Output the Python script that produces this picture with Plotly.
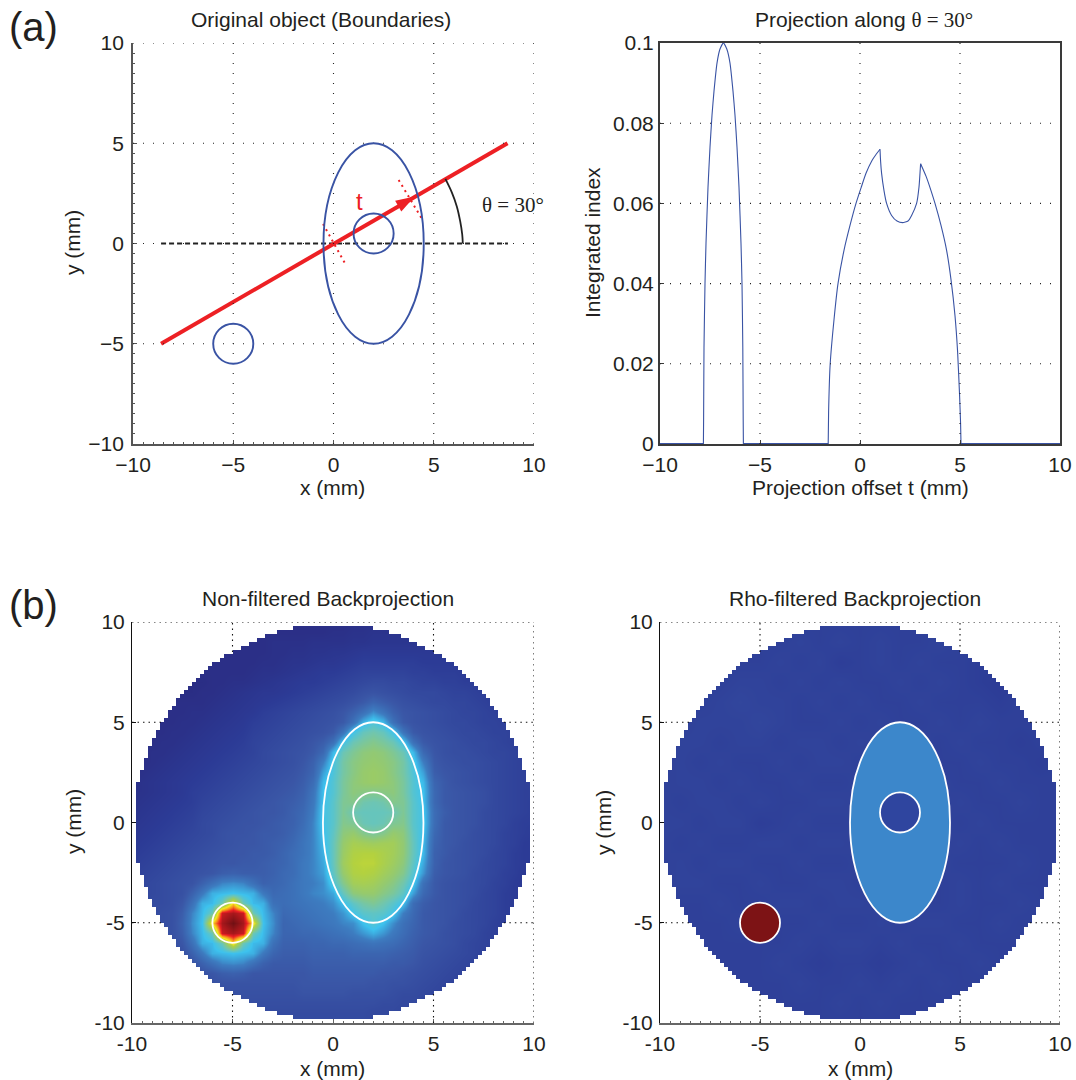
import numpy as np
import plotly.graph_objects as go

W, H = 1076, 1080
INK = "#231f20"
BLUE = "#3953a4"
RED = "#ed2024"

# ---------- data ----------
tick_vals = [-10, -5, 0, 5, 10]
tick_text_minus = ["\u221210", "\u22125", "0", "5", "10"]
tick_text_hyphen = ["-10", "-5", "0", "5", "10"]
proj_ticks = [0, 0.02, 0.04, 0.06, 0.08, 0.1]
proj_tick_text = ["0", "0.02", "0.04", "0.06", "0.08", "0.1"]

ray_x = [-8.6, 8.68]
ray_y = [-5.0, 5.0]
baseline_x = [-8.6, 8.7]
baseline_y = [0, 0]
perp1_x = [-0.52, 0.58]
perp1_y = [0.97, -1.0]
perp2_x = [3.25, 4.4]
perp2_y = [3.17, 1.25]
arc_x = [5.58, 5.9, 6.15, 6.32, 6.42, 6.45]
arc_y = [3.22, 2.55, 1.85, 1.1, 0.45, 0.0]
arrow_x = [4.05]
arrow_y = [2.34]

zero_t = [-10, -7.83, None, -5.83, -1.59, None, 5.05, 10]
zero_v = [0, 0, None, 0, 0, None, 0, 0]
bump_t = [-7.83, -7.82, -7.8, -7.75, -7.7, -7.6, -7.5, -7.4, -7.3, -7.15, -7.0, -6.83,
          -6.66, -6.5, -6.35, -6.25, -6.15, -6.05, -5.95, -5.9, -5.86, -5.84, -5.83]
bump_v = [0, 0.006, 0.024, 0.040, 0.050, 0.064, 0.074, 0.082, 0.088, 0.095, 0.0985, 0.1,
          0.0985, 0.095, 0.088, 0.082, 0.074, 0.064, 0.050, 0.040, 0.024, 0.006, 0]
rise_t = [-1.59, -1.57, -1.49, -1.3, -1.1, -0.8, -0.5, -0.2, 0.06, 0.3, 0.6, 0.8, 1.0]
rise_v = [0, 0.008, 0.02, 0.031, 0.04, 0.0483, 0.0545, 0.06, 0.064, 0.0675, 0.0707, 0.0722, 0.0735]
dip_t = [1.0, 1.03, 1.08, 1.2, 1.33, 1.58, 1.85, 2.13, 2.4, 2.58, 2.83, 2.95, 3.03]
dip_v = [0.0735, 0.0705, 0.0675, 0.0632, 0.06, 0.057, 0.0556, 0.0552, 0.0556, 0.057, 0.06, 0.0641, 0.0699]
fall_t = [3.03, 3.3, 3.55, 3.75, 4.05, 4.33, 4.55, 4.75, 4.88, 4.98, 5.03, 5.05]
fall_v = [0.0699, 0.0668, 0.0632, 0.06, 0.0545, 0.0483, 0.041, 0.032, 0.023, 0.012, 0.005, 0]

# half width of the disc image (mm) per 0.2 mm row, from the centre row outwards
disc_half = [9.8, 9.8, 9.8, 9.8, 9.8, 9.8, 9.8, 9.8, 9.8, 9.8,
             9.6, 9.6, 9.6, 9.4, 9.4, 9.4, 9.2, 9.2, 9.2, 9.0,
             9.0, 8.8, 8.8, 8.6, 8.6, 8.4, 8.2, 8.2, 8.0, 7.8,
             7.8, 7.6, 7.4, 7.2, 7.0, 6.8, 6.6, 6.4, 6.2, 6.0,
             5.6, 5.4, 5.0, 4.6, 4.2, 3.8, 3.4, 2.8, 2.0, 0.0]

big_ellipse = (-0.5, -5.0, 4.5, 5.0)
inner_circle = (1.0, -0.5, 3.0, 1.5)
hot_circle = (-6.0, -6.0, -4.0, -4.0)

grid_axis_05 = [-10 + 0.5 * i for i in range(41)]
grid_desc_05 = [10 - 0.5 * i for i in range(41)]
grid_axis_10 = [-10 + i for i in range(21)]
grid_desc_10 = [10 - i for i in range(21)]

# colour level x100, rows from y=10 to y=-10, columns from x=-10 to x=10, 0.5 mm apart
nonfiltered = [
 [3,3,3,3,3,3,3,3,3,3, 3,3,3,3,3,3,3,3,3,3, 3,3,4,4,5,5,5,6,6,6, 6,7,7,7,8,8,8,8,8,8, 8],
 [3,3,3,3,3,3,3,3,3,3, 3,3,3,3,3,3,3,3,3,3, 4,4,5,5,6,6,6,6,6,7, 7,7,7,8,8,8,8,8,8,8, 8],
 [3,3,3,3,3,3,3,3,3,3, 3,3,3,3,4,4,4,4,5,5, 5,5,6,6,7,7,7,7,7,8, 8,8,8,8,8,8,8,8,8,8, 8],
 [3,3,3,3,3,3,3,3,3,3, 3,3,3,3,4,4,5,5,6,6, 7,7,8,9,9,9,9,9,9,9, 9,9,9,9,9,8,8,8,8,8, 8],
 [3,3,3,3,3,3,3,3,3,3, 3,3,3,4,4,5,6,6,7,8, 8,9,10,11,11,11,11,11,11,10, 10,10,10,10,9,9,8,8,8,8, 8],
 [3,3,3,3,3,3,3,3,3,3, 3,3,4,5,5,6,7,8,9,10, 10,11,12,13,13,13,13,13,12,12, 11,11,11,10,10,9,9,8,8,8, 8],
 [3,3,3,3,3,2,2,2,3,3, 4,4,5,6,7,8,9,10,10,11, 12,13,14,15,16,16,15,15,14,13, 13,12,12,11,11,10,10,9,9,8, 8],
 [3,3,3,3,3,2,2,3,3,4, 5,6,7,8,8,9,10,11,12,13, 14,15,16,18,19,18,17,16,15,15, 15,14,13,13,12,11,11,10,9,9, 9],
 [3,3,3,3,3,3,3,3,4,5, 6,7,8,9,10,11,12,13,14,15, 16,17,19,21,24,22,20,18,17,16, 15,15,14,14,13,12,11,11,10,10, 9],
 [3,3,3,3,3,3,4,4,5,6, 7,8,9,11,12,13,14,15,16,17, 18,20,23,27,32,28,23,20,19,18, 17,16,15,14,14,13,12,11,11,10, 10],
 [3,3,3,3,3,4,4,5,6,7, 8,9,11,12,13,14,15,16,17,18, 19,21,27,36,41,37,27,21,19,18, 17,16,15,15,14,13,13,12,11,11, 10],
 [3,3,3,3,4,4,5,6,7,8, 9,10,12,13,14,15,16,17,18,19, 21,28,39,45,47,45,39,28,21,19, 18,17,16,15,15,14,13,13,12,11, 10],
 [3,3,3,4,4,5,6,7,8,9, 10,11,13,14,15,16,17,18,20,22, 27,39,46,49,51,49,46,39,27,21, 19,18,17,16,15,15,14,13,12,12, 11],
 [3,3,4,4,5,6,7,8,9,10, 11,12,13,15,16,17,18,19,21,25, 37,46,50,53,54,53,50,46,37,25, 20,18,17,17,16,15,14,14,13,12, 11],
 [3,3,4,5,6,7,8,9,10,11, 12,13,14,15,16,17,18,20,23,30, 40,48,52,54,55,54,52,48,40,30, 21,19,18,17,17,16,15,14,13,12, 12],
 [3,4,5,6,7,8,9,10,11,12, 13,14,15,16,17,18,19,21,24,34, 41,48,52,55,56,55,52,48,41,34, 22,20,19,18,17,16,15,14,13,12, 12],
 [4,5,6,7,8,9,10,11,12,13, 14,15,16,17,18,19,20,22,26,37, 42,49,53,55,56,55,53,49,42,37, 24,21,19,18,17,16,15,14,13,12, 12],
 [5,5,6,7,8,9,11,12,13,14, 15,16,17,18,19,20,21,23,28,38, 42,49,53,52,51,52,53,49,42,38, 25,21,20,19,18,17,15,14,13,12, 12],
 [5,6,7,8,9,10,11,13,14,15, 16,17,18,19,20,21,22,24,29,38, 43,50,51,47,46,47,51,50,43,38, 25,21,20,19,18,17,15,14,13,12, 11],
 [6,7,8,9,10,11,12,14,15,16, 17,18,19,20,20,21,23,25,30,39, 43,50,46,45,45,45,46,50,43,39, 26,22,20,19,18,16,15,14,13,12, 11],
 [7,8,9,10,11,12,13,15,16,17, 18,19,19,20,21,22,23,26,31,39, 43,51,50,46,45,46,50,51,43,39, 26,21,20,19,18,16,15,14,12,11, 11],
 [8,9,10,11,12,13,14,15,16,18, 19,19,20,21,21,22,24,27,31,38, 44,53,55,51,49,51,55,53,44,38, 25,21,20,19,17,16,15,13,12,11, 10],
 [9,10,11,12,13,14,15,16,17,18, 19,20,20,21,22,23,25,28,31,37, 45,55,59,58,57,58,58,54,45,37, 24,21,20,18,17,16,15,13,12,10, 10],
 [10,11,12,13,14,15,16,17,18,19, 20,20,21,21,22,24,26,28,31,36, 45,56,61,62,62,60,58,54,45,37, 23,21,19,18,17,16,14,13,11,10, 10],
 [11,12,13,14,15,16,17,18,19,20, 20,21,21,22,23,24,26,29,31,35, 45,57,62,63,63,60,57,53,44,35, 23,20,19,18,17,15,14,13,11,10, 9],
 [12,13,14,15,16,17,18,19,20,22, 23,22,22,22,23,25,26,29,31,34, 44,55,61,62,61,58,55,51,42,33, 22,20,19,18,16,15,14,12,11,9, 9],
 [13,14,15,16,17,18,19,23,27,31, 32,31,27,23,24,25,27,29,30,32, 41,51,58,59,58,55,52,47,39,27, 21,19,18,17,16,15,13,12,10,9, 8],
 [13,14,15,16,17,18,23,29,36,37, 38,37,36,29,25,26,27,29,31,32, 35,45,53,55,55,52,49,44,34,25, 21,19,18,17,16,14,13,11,10,9, 8],
 [14,15,16,16,17,20,27,36,37,46, 72,46,37,36,27,26,27,28,29,30, 32,38,44,48,50,47,43,38,26,22, 20,19,18,17,15,14,13,11,10,9, 8],
 [14,15,16,17,18,22,31,37,46,90, 94,90,46,37,31,25,26,27,28,29, 30,33,39,43,44,43,39,30,25,21, 20,19,18,16,15,14,13,11,10,8, 8],
 [14,15,16,17,18,23,32,38,72,94, 100,94,72,38,32,24,25,26,27,28, 29,31,32,38,42,38,32,27,24,21, 20,19,17,16,15,14,12,11,9,8, 8],
 [14,15,16,17,18,22,31,37,46,90, 94,90,46,37,31,24,24,25,25,26, 27,28,30,33,36,33,29,26,23,21, 20,18,17,16,15,13,12,11,9,8, 8],
 [14,15,16,16,17,20,27,36,37,46, 72,46,37,36,27,23,23,23,24,24, 25,25,26,27,28,27,26,24,22,20, 19,18,17,15,14,13,12,10,9,8, 8],
 [14,15,15,16,17,18,23,29,36,37, 38,37,36,29,24,22,22,22,23,23, 23,23,24,24,24,24,23,22,21,19, 18,17,16,15,14,12,11,10,9,8, 8],
 [14,14,15,15,16,17,19,23,27,31, 32,31,27,23,21,21,21,21,22,22, 22,22,22,22,22,22,21,21,20,18, 17,16,15,14,13,12,11,9,8,8, 8],
 [13,14,14,15,16,16,17,19,20,22, 23,22,20,20,20,20,20,20,21,21, 21,21,21,21,21,20,20,19,18,17, 16,15,14,13,12,11,10,9,8,8, 8],
 [13,13,14,14,15,15,16,17,18,19, 19,19,19,19,19,19,19,20,20,20, 20,20,20,20,19,19,18,18,17,16, 15,14,13,12,11,10,9,9,8,8, 8],
 [13,13,13,14,14,15,15,16,17,17, 18,18,18,18,18,18,18,19,19,19, 19,19,18,18,18,18,17,16,16,15, 14,13,12,11,10,9,9,8,8,8, 8],
 [13,13,13,13,14,14,15,15,16,16, 17,17,17,17,17,17,17,17,17,17, 17,17,17,17,17,16,16,15,15,14, 13,12,11,10,10,9,8,8,8,8, 8],
 [13,13,13,13,13,14,14,15,15,15, 16,16,16,16,16,16,16,16,16,16, 16,16,16,16,15,15,15,14,14,13, 12,11,11,10,9,9,8,8,8,8, 8],
 [13,13,13,13,13,14,14,15,15,15, 16,16,16,16,16,16,16,16,16,16, 16,16,16,16,15,15,15,14,14,13, 12,11,11,10,9,9,8,8,8,8, 8],
]

# colour level x100, rows from y=10 to y=-10, columns from x=-10 to x=10, 1 mm apart
rho_filtered = [
 [12,12,12,12,12,12,12,12,12,12,12,12,12,12,12,12,12,12,12,12,12],
 [12,12,12,12,12,12,12,13,12,13,12,13,12,12,13,12,12,12,12,12,12],
 [12,12,12,12,12,12,13,12,13,11,12,13,12,13,12,12,11,12,12,12,12],
 [12,12,12,12,13,13,12,13,12,13,12,12,13,12,13,12,11,10,12,12,12],
 [12,12,12,13,14,13,13,12,13,12,13,12,12,13,12,12,12,11,12,12,12],
 [12,12,13,13,13,14,13,12,12,13,12,13,12,12,13,12,13,12,12,12,12],
 [12,13,13,12,13,13,12,13,13,12,13,12,13,13,12,13,12,12,11,12,12],
 [12,13,12,13,12,12,13,12,13,13,12,13,12,13,12,12,13,12,12,11,12],
 [12,13,13,12,13,12,12,13,12,12,13,12,13,12,13,12,12,13,12,12,12],
 [13,12,13,13,12,13,12,12,13,13,12,13,12,13,12,13,12,12,13,12,12],
 [13,13,12,13,13,11,12,13,12,12,13,12,12,12,13,12,13,12,12,12,12],
 [13,12,13,12,12,13,13,12,13,13,12,13,13,13,12,13,12,13,12,12,12],
 [12,13,12,13,13,12,12,13,12,12,13,12,13,12,13,12,12,12,13,12,12],
 [12,13,13,12,12,13,12,12,13,13,12,13,12,13,12,13,12,13,12,12,12],
 [12,12,12,13,12,12,13,13,12,13,13,12,13,12,12,13,12,12,13,12,12],
 [12,12,12,12,13,12,12,12,13,12,12,13,12,13,13,12,12,13,12,12,12],
 [12,12,12,12,12,12,12,13,12,13,13,12,13,12,12,13,12,12,12,12,12],
 [12,12,12,12,12,12,13,12,11,12,12,11,12,13,12,12,13,12,12,12,12],
 [12,12,12,12,12,12,12,13,12,12,13,12,13,12,13,12,12,12,12,12,12],
 [12,12,12,12,12,12,12,12,12,13,12,13,12,12,12,12,12,12,12,12,12],
 [12,12,12,12,12,12,12,12,12,12,12,12,12,12,12,12,12,12,12,12,12],
]

# ---------- layout helpers ----------
def fx(px):
    return px / W

def fy(py):
    return 1 - py / H

panels = {
    "a1": (133, 534, 43, 444),
    "a2": (660, 1060, 43, 444),
    "b1": (132, 534, 622, 1023),
    "b2": (660, 1060, 622, 1023),
}

jet = [
    [0.00, "#2a2a80"], [0.10, "#2c3b96"], [0.20, "#3a56a6"], [0.30, "#3d7cc0"],
    [0.38, "#3dc2ee"], [0.46, "#6cc5b5"], [0.54, "#92c973"], [0.62, "#b3d13f"],
    [0.70, "#f4e81f"], [0.78, "#f7931e"], [0.86, "#ec2024"], [1.00, "#701014"],
]

def axis(dom_px, vals, text, anchor, is_y, line, lw, minor, rng, standoff):
    lo, hi = dom_px
    dom = [fy(hi), fy(lo)] if is_y else [fx(lo), fx(hi)]
    spec = dict(
        domain=dom, range=rng, anchor=anchor, tickmode="array", tickvals=vals, ticktext=text,
        ticks="inside", ticklen=4, tickwidth=1, tickcolor=line,
        tickfont=dict(family="Liberation Sans", size=21, color=INK),
        showgrid=False, zeroline=False, showline=True, linecolor=line, linewidth=lw,
        layer="above traces", fixedrange=True, ticklabelstandoff=standoff,
    )
    if minor:
        spec["minor"] = dict(ticks="inside", ticklen=2, tickwidth=1, tickcolor=line, dtick=minor)
    return spec

fig = go.Figure()

def line_trace(x, y, color, width, axes, dash="solid", shape="linear", smoothing=1):
    fig.add_trace(go.Scatter(x=x, y=y, mode="lines", xaxis=axes[0], yaxis=axes[1], showlegend=False,
                             hoverinfo="skip",
                             line=dict(color=color, width=width, dash=dash, shape=shape, smoothing=smoothing)))

# panel a1
line_trace(baseline_x, baseline_y, "#222222", 1.8, ("x", "y"), "5px,3px")
line_trace(ray_x, ray_y, RED, 4, ("x", "y"))
line_trace(perp1_x, perp1_y, RED, 2, ("x", "y"), "2px,4px")
line_trace(perp2_x, perp2_y, RED, 2, ("x", "y"), "2px,4px")
line_trace(arc_x, arc_y, "#222222", 1.8, ("x", "y"), shape="spline")
fig.add_trace(go.Scatter(x=arrow_x, y=arrow_y, mode="markers", xaxis="x", yaxis="y", showlegend=False,
                         hoverinfo="skip", marker=dict(symbol="arrow", size=20, angle=60, color=RED,
                                                       line=dict(width=0))))

# panel a2
line_trace(zero_t, zero_v, BLUE, 2, ("x2", "y2"))
for ts, vs in [(bump_t, bump_v), (rise_t, rise_v), (dip_t, dip_v), (fall_t, fall_v)]:
    line_trace(ts, vs, BLUE, 1.1, ("x2", "y2"), shape="spline", smoothing=0.5)

# images
disc_rows_y = [9.9 - 0.2 * i for i in range(100)]
disc_cols_x = [-9.9 + 0.2 * i for i in range(100)]
halves = list(reversed(disc_half)) + disc_half
disc_mask = [[np.nan if abs(x) < h else 1 for x in disc_cols_x] for h in halves]

def image(z, xs, ys, axes):
    fig.add_trace(go.Heatmap(z=np.array(z) / 100, x=xs, y=ys, xaxis=axes[0], yaxis=axes[1], zmin=0, zmax=1,
                             colorscale=jet, showscale=False, zsmooth="best", hoverinfo="skip"))
    fig.add_trace(go.Heatmap(z=disc_mask, x=disc_cols_x, y=disc_rows_y, xaxis=axes[0], yaxis=axes[1],
                             zmin=0, zmax=1, colorscale=[[0, "#ffffff"], [1, "#ffffff"]], showscale=False,
                             hoverinfo="skip"))

image(nonfiltered, grid_axis_05, grid_desc_05, ("x3", "y3"))
image(rho_filtered, grid_axis_10, grid_desc_10, ("x4", "y4"))

layout = dict(
    width=W, height=H, margin=dict(l=0, r=0, t=0, b=0, autoexpand=False),
    paper_bgcolor="white", plot_bgcolor="white", showlegend=False,
)
for name, key, xt, yvals, ytext, ymin, xcol, xw, ycol, yw, xminor, yminor, ysoff in [
    ("", "a1", tick_text_minus, tick_vals, tick_text_minus, -10, "#555555", 1.8, "#555555", 1.8, 0.5, 0.5, 3),
    ("2", "a2", tick_text_minus, proj_ticks, proj_tick_text, 0, "#3a3a3a", 2, "#3a3a3a", 2, None, None, 0),
    ("3", "b1", tick_text_hyphen, tick_vals, tick_text_hyphen, -10, "#666666", 1.6, "#111111", 1.1, 0.5, None, 2),
    ("4", "b2", tick_text_hyphen, tick_vals, tick_text_hyphen, -10, "#666666", 1.6, "#111111", 1.1, 0.5, None, 2),
]:
    l, r, t, b = panels[key]
    xa = axis((l, r), tick_vals, xt, "y" + name, False, xcol, xw, xminor, [-10, 10], 1)
    ya = axis((t, b), yvals, ytext, "x" + name, True, ycol, yw, yminor, [ymin, 10 if ymin == -10 else 0.1], ysoff)
    if key == "a2":
        xa["mirror"] = True
        ya["mirror"] = True
    layout["xaxis" + name] = xa
    layout["yaxis" + name] = ya

shapes = []

def seg(axes, x0, y0, x1, y1, dash, color="#222222", width=1.1):
    shapes.append(dict(type="line", xref=axes[0], yref=axes[1], x0=x0, y0=y0, x1=x1, y1=y1, layer="above",
                       line=dict(color=color, width=width, dash=dash)))

def oval(axes, box, line, width, fill=None):
    shapes.append(dict(type="circle", xref=axes[0], yref=axes[1], x0=box[0], y0=box[1], x1=box[2], y1=box[3],
                       layer="above", line=dict(color=line, width=width),
                       fillcolor=fill if fill else "rgba(0,0,0,0)"))

DOT_A = "1px,9px"
DOT_B = "1.5px,4px"

# panel a1 grid
for v in [-5, 0, 5, 10]:
    seg(("x", "y"), v, -10, v, 10, DOT_A)
    seg(("x", "y"), -10, v, 10, v, DOT_A)
oval(("x", "y"), big_ellipse, BLUE, 1.9)
oval(("x", "y"), inner_circle, BLUE, 1.9)
oval(("x", "y"), hot_circle, BLUE, 1.9)

# panel a2 grid
for v in [-5, 0, 5]:
    seg(("x2", "y2"), v, 0, v, 0.1, DOT_A)
for v in [0.02, 0.04, 0.06, 0.08]:
    seg(("x2", "y2"), -10, v, 10, v, DOT_A)

# panels b grids: only the parts left outside the disc
for ax in [("x3", "y3"), ("x4", "y4")]:
    seg(ax, -10, 10, 10, 10, DOT_B, "#111111")
    seg(ax, 10, -10, 10, 10, DOT_B, "#111111")
    for v in [-5, 5]:
        seg(ax, v, 8.5, v, 10, DOT_B, "#111111")
        seg(ax, v, -10, v, -8.5, DOT_B, "#111111")
        seg(ax, -10, v, -8.5, v, DOT_B, "#111111")
        seg(ax, 8.5, v, 10, v, DOT_B, "#111111")

# panel b1 outlines
oval(("x3", "y3"), big_ellipse, "white", 1.8)
oval(("x3", "y3"), inner_circle, "white", 1.8)
oval(("x3", "y3"), hot_circle, "white", 1.8)

# panel b2 regions
oval(("x4", "y4"), big_ellipse, "white", 1.8, "rgba(62,143,208,0.9)")
oval(("x4", "y4"), inner_circle, "white", 1.8, "#2f459f")
oval(("x4", "y4"), hot_circle, "white", 1.8, "#7d1315")
layout["shapes"] = shapes

def label(px, py, text, size=21, angle=0, family="Liberation Sans", color=INK):
    return dict(xref="paper", yref="paper", x=fx(px), y=fy(py), text=text, showarrow=False, textangle=angle,
                xanchor="center", yanchor="middle", font=dict(family=family, size=size, color=color))

theta = '<span style="font-family:Liberation Serif">\u03b8 = 30\u00b0</span>'
layout["annotations"] = [
    label(33, 27, "(a)", 40),
    label(33, 605, "(b)", 40),
    label(321, 20, "Original object (Boundaries)"),
    label(864, 20, "Projection along " + theta),
    label(332, 487, "x (mm)"),
    label(860, 487, "Projection offset t (mm)"),
    label(73, 243, "y (mm)", 21, -90),
    label(593, 243, "Integrated index", 21, -90),
    label(328, 598, "Non-filtered Backprojection"),
    label(855, 598, "Rho-filtered Backprojection"),
    label(332, 1068, "x (mm)"),
    label(860, 1068, "x (mm)"),
    label(73, 822, "y (mm)", 21, -90),
    label(603, 822, "y (mm)", 21, -90),
    label(359, 202, "t", 24, color=RED),
    label(513, 205, "\u03b8 = 30\u00b0", 21, family="Liberation Serif"),
]
fig.update_layout(**layout)
fig.write_html("out.html", config={"displayModeBar": False},
               post_script="document.body.style.margin='0';document.body.style.overflow='hidden';")
